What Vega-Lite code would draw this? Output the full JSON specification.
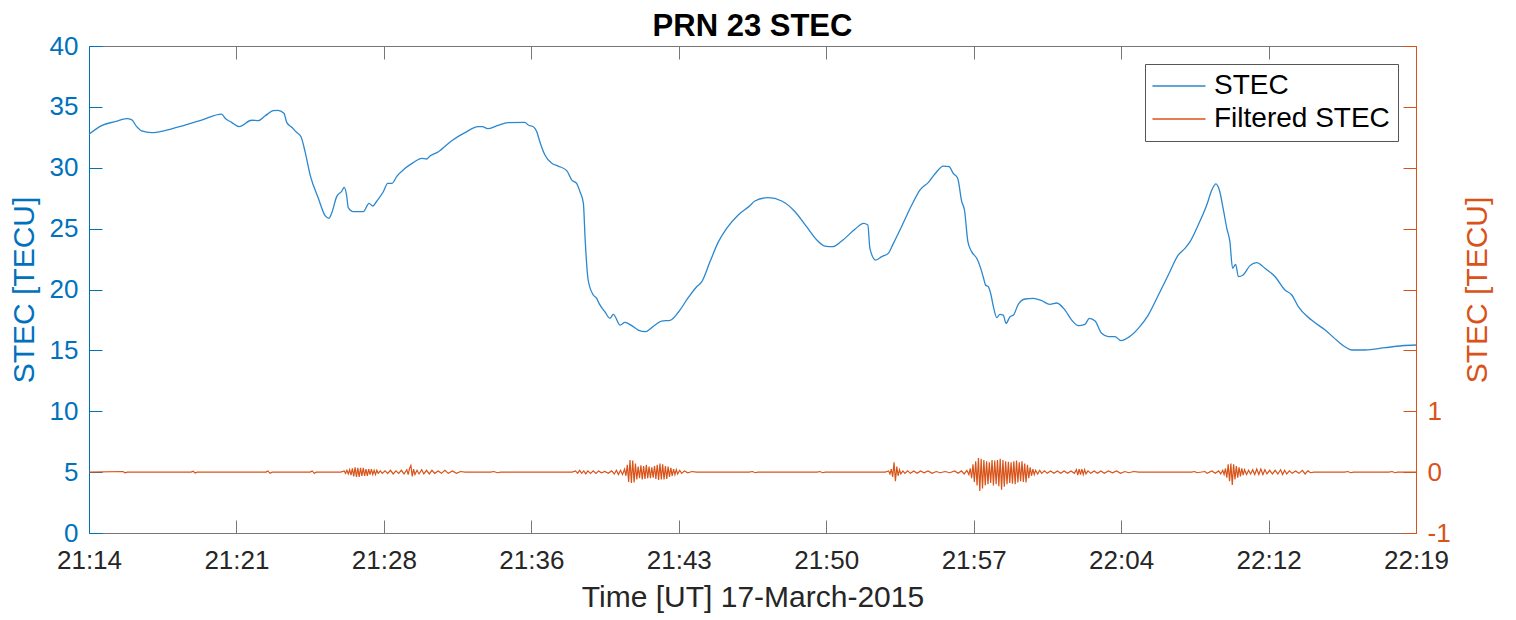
{
  "$schema": "https://vega.github.io/schema/vega-lite/v6.json",
  "width": 1327,
  "height": 487,
  "autosize": {"type": "none"},
  "padding": {"left": 89, "top": 46, "right": 100, "bottom": 87},
  "background": "white",
  "title": {"text": "PRN 23 STEC", "font": "Liberation Sans", "fontSize": 31, "fontWeight": "bold", "color": "#000000", "offset": -10},
  "datasets": {
    "stec": [
      {"t": 76460, "stec": 32.75}, {"t": 76497, "stec": 33.46}, {"t": 76536, "stec": 33.79}, {"t": 76571, "stec": 34.03},
      {"t": 76585, "stec": 33.95}, {"t": 76600, "stec": 33.38}, {"t": 76615, "stec": 33.02}, {"t": 76644, "stec": 32.88},
      {"t": 76683, "stec": 33.05}, {"t": 76742, "stec": 33.51}, {"t": 76791, "stec": 33.92}, {"t": 76850, "stec": 34.41},
      {"t": 76860, "stec": 34.06}, {"t": 76879, "stec": 33.73}, {"t": 76901, "stec": 33.38}, {"t": 76938, "stec": 33.9},
      {"t": 76958, "stec": 33.87}, {"t": 76977, "stec": 34.25}, {"t": 77002, "stec": 34.69}, {"t": 77015, "stec": 34.72},
      {"t": 77033, "stec": 34.47}, {"t": 77041, "stec": 33.73}, {"t": 77056, "stec": 33.32}, {"t": 77070, "stec": 32.91},
      {"t": 77083, "stec": 32.55}, {"t": 77095, "stec": 31.32}, {"t": 77110, "stec": 29.4}, {"t": 77134, "stec": 27.49},
      {"t": 77154, "stec": 26.06}, {"t": 77165, "stec": 25.85}, {"t": 77173, "stec": 26.26}, {"t": 77188, "stec": 27.63},
      {"t": 77203, "stec": 28.09}, {"t": 77210, "stec": 28.39}, {"t": 77217, "stec": 27.76}, {"t": 77222, "stec": 26.72},
      {"t": 77237, "stec": 26.39}, {"t": 77266, "stec": 26.39}, {"t": 77283, "stec": 27.08}, {"t": 77294, "stec": 26.86},
      {"t": 77306, "stec": 27.27}, {"t": 77325, "stec": 28.03}, {"t": 77338, "stec": 28.72}, {"t": 77351, "stec": 28.72},
      {"t": 77364, "stec": 29.27}, {"t": 77389, "stec": 29.95}, {"t": 77413, "stec": 30.42}, {"t": 77438, "stec": 30.77},
      {"t": 77452, "stec": 30.72}, {"t": 77462, "stec": 30.96}, {"t": 77487, "stec": 31.32}, {"t": 77526, "stec": 32.22},
      {"t": 77565, "stec": 32.88}, {"t": 77604, "stec": 33.37}, {"t": 77616, "stec": 33.37}, {"t": 77632, "stec": 33.21},
      {"t": 77658, "stec": 33.43}, {"t": 77692, "stec": 33.7}, {"t": 77741, "stec": 33.72}, {"t": 77751, "stec": 33.51},
      {"t": 77766, "stec": 33.37}, {"t": 77776, "stec": 32.96}, {"t": 77785, "stec": 32.14}, {"t": 77800, "stec": 31.05},
      {"t": 77820, "stec": 30.36}, {"t": 77839, "stec": 30.14}, {"t": 77864, "stec": 29.76}, {"t": 77879, "stec": 28.99},
      {"t": 77893, "stec": 28.72}, {"t": 77903, "stec": 28.03}, {"t": 77913, "stec": 27.08}, {"t": 77918, "stec": 24.2},
      {"t": 77927, "stec": 20.78}, {"t": 77942, "stec": 19.55}, {"t": 77952, "stec": 19.27}, {"t": 77959, "stec": 18.86},
      {"t": 77976, "stec": 18.18}, {"t": 77991, "stec": 17.63}, {"t": 78001, "stec": 17.96}, {"t": 78021, "stec": 17.08},
      {"t": 78035, "stec": 17.3}, {"t": 78055, "stec": 17.03}, {"t": 78074, "stec": 16.67}, {"t": 78096, "stec": 16.54},
      {"t": 78114, "stec": 16.87}, {"t": 78143, "stec": 17.41}, {"t": 78168, "stec": 17.47}, {"t": 78192, "stec": 18.13},
      {"t": 78221, "stec": 19.33}, {"t": 78246, "stec": 20.23}, {"t": 78261, "stec": 20.64}, {"t": 78285, "stec": 22.28},
      {"t": 78310, "stec": 23.93}, {"t": 78334, "stec": 25.02}, {"t": 78368, "stec": 26.12}, {"t": 78403, "stec": 26.9},
      {"t": 78417, "stec": 27.27}, {"t": 78456, "stec": 27.54}, {"t": 78496, "stec": 27.27}, {"t": 78535, "stec": 26.39},
      {"t": 78569, "stec": 25.16}, {"t": 78599, "stec": 24.07}, {"t": 78623, "stec": 23.57}, {"t": 78645, "stec": 23.52},
      {"t": 78672, "stec": 23.98}, {"t": 78711, "stec": 24.94}, {"t": 78736, "stec": 25.43}, {"t": 78749, "stec": 25.3},
      {"t": 78755, "stec": 23.38}, {"t": 78772, "stec": 22.42}, {"t": 78790, "stec": 22.7}, {"t": 78809, "stec": 22.97},
      {"t": 78824, "stec": 23.79}, {"t": 78848, "stec": 25.16}, {"t": 78878, "stec": 26.94}, {"t": 78902, "stec": 28.17},
      {"t": 78927, "stec": 28.8}, {"t": 78946, "stec": 29.49}, {"t": 78971, "stec": 30.14}, {"t": 78988, "stec": 30.09},
      {"t": 79000, "stec": 29.54}, {"t": 79013, "stec": 29.13}, {"t": 79025, "stec": 27.21}, {"t": 79033, "stec": 26.53},
      {"t": 79043, "stec": 23.93}, {"t": 79054, "stec": 23.11}, {"t": 79069, "stec": 22.56}, {"t": 79079, "stec": 21.88},
      {"t": 79088, "stec": 21.05}, {"t": 79095, "stec": 20.37}, {"t": 79103, "stec": 20.23}, {"t": 79111, "stec": 19.55},
      {"t": 79118, "stec": 18.59}, {"t": 79128, "stec": 17.69}, {"t": 79137, "stec": 17.96}, {"t": 79147, "stec": 17.9},
      {"t": 79155, "stec": 17.22}, {"t": 79167, "stec": 17.77}, {"t": 79177, "stec": 17.9}, {"t": 79191, "stec": 18.78},
      {"t": 79211, "stec": 19.22}, {"t": 79235, "stec": 19.27}, {"t": 79260, "stec": 19.08}, {"t": 79284, "stec": 18.78},
      {"t": 79304, "stec": 18.89}, {"t": 79328, "stec": 18.32}, {"t": 79348, "stec": 17.49}, {"t": 79368, "stec": 17.03},
      {"t": 79387, "stec": 17.14}, {"t": 79400, "stec": 17.63}, {"t": 79417, "stec": 17.41}, {"t": 79436, "stec": 16.4},
      {"t": 79456, "stec": 16.13}, {"t": 79475, "stec": 16.13}, {"t": 79493, "stec": 15.8}, {"t": 79515, "stec": 16.07},
      {"t": 79544, "stec": 16.81}, {"t": 79573, "stec": 17.9}, {"t": 79603, "stec": 19.55}, {"t": 79632, "stec": 21.19},
      {"t": 79661, "stec": 22.83}, {"t": 79681, "stec": 23.38}, {"t": 79696, "stec": 23.93}, {"t": 79720, "stec": 25.3},
      {"t": 79745, "stec": 26.94}, {"t": 79760, "stec": 28.17}, {"t": 79772, "stec": 28.67}, {"t": 79782, "stec": 28.17},
      {"t": 79794, "stec": 26.53}, {"t": 79804, "stec": 25.02}, {"t": 79813, "stec": 23.93}, {"t": 79821, "stec": 21.74},
      {"t": 79830, "stec": 22.07}, {"t": 79838, "stec": 21.05}, {"t": 79852, "stec": 21.19}, {"t": 79872, "stec": 21.96},
      {"t": 79892, "stec": 22.21}, {"t": 79916, "stec": 21.74}, {"t": 79946, "stec": 21.05}, {"t": 79975, "stec": 19.96},
      {"t": 79995, "stec": 19.55}, {"t": 80014, "stec": 18.59}, {"t": 80053, "stec": 17.49}, {"t": 80093, "stec": 16.67},
      {"t": 80132, "stec": 15.71}, {"t": 80151, "stec": 15.3}, {"t": 80171, "stec": 15.03}, {"t": 80210, "stec": 15.03},
      {"t": 80269, "stec": 15.22}, {"t": 80318, "stec": 15.38}, {"t": 80360, "stec": 15.44}
    ],
    "filtered": [
      {"t": 76460, "dtec": 0}, {"t": 76560, "dtec": 0.01}, {"t": 76566, "dtec": -0.01}, {"t": 76572, "dtec": 0},
      {"t": 76760, "dtec": 0}, {"t": 76766, "dtec": 0.015}, {"t": 76772, "dtec": -0.015}, {"t": 76778, "dtec": 0},
      {"t": 76980, "dtec": 0}, {"t": 76986, "dtec": 0.02}, {"t": 76992, "dtec": -0.02}, {"t": 76998, "dtec": 0},
      {"t": 77110, "dtec": 0}, {"t": 77116, "dtec": 0.02}, {"t": 77122, "dtec": -0.02}, {"t": 77128, "dtec": 0},
      {"t": 77200, "dtec": 0}, {"t": 77210, "dtec": 0.02}, {"t": 77214, "dtec": -0.02}, {"t": 77218, "dtec": 0.03},
      {"t": 77222, "dtec": -0.03}, {"t": 77226, "dtec": 0.04}, {"t": 77230, "dtec": -0.05}, {"t": 77234, "dtec": 0.06},
      {"t": 77238, "dtec": -0.07}, {"t": 77242, "dtec": 0.08}, {"t": 77246, "dtec": -0.08}, {"t": 77250, "dtec": 0.07},
      {"t": 77254, "dtec": -0.08}, {"t": 77258, "dtec": 0.07}, {"t": 77262, "dtec": -0.06}, {"t": 77266, "dtec": 0.07},
      {"t": 77270, "dtec": -0.06}, {"t": 77274, "dtec": 0.05}, {"t": 77278, "dtec": -0.06}, {"t": 77282, "dtec": 0.05},
      {"t": 77286, "dtec": -0.04}, {"t": 77290, "dtec": 0.05}, {"t": 77294, "dtec": -0.04}, {"t": 77298, "dtec": 0.03},
      {"t": 77302, "dtec": -0.04}, {"t": 77306, "dtec": 0.03}, {"t": 77310, "dtec": -0.02}, {"t": 77316, "dtec": 0.02},
      {"t": 77322, "dtec": -0.02}, {"t": 77330, "dtec": 0.02}, {"t": 77338, "dtec": -0.02}, {"t": 77346, "dtec": 0.03},
      {"t": 77354, "dtec": -0.03}, {"t": 77362, "dtec": 0.02}, {"t": 77370, "dtec": -0.02}, {"t": 77378, "dtec": 0.03},
      {"t": 77386, "dtec": -0.03}, {"t": 77394, "dtec": 0.04}, {"t": 77398, "dtec": -0.04}, {"t": 77402, "dtec": 0.06},
      {"t": 77406, "dtec": 0.11}, {"t": 77410, "dtec": -0.07}, {"t": 77414, "dtec": 0.05}, {"t": 77418, "dtec": -0.04},
      {"t": 77424, "dtec": 0.03}, {"t": 77430, "dtec": -0.03}, {"t": 77438, "dtec": 0.04}, {"t": 77444, "dtec": -0.03},
      {"t": 77452, "dtec": 0.03}, {"t": 77460, "dtec": -0.03}, {"t": 77468, "dtec": 0.03}, {"t": 77476, "dtec": -0.02},
      {"t": 77486, "dtec": 0.02}, {"t": 77496, "dtec": -0.02}, {"t": 77506, "dtec": 0.03}, {"t": 77516, "dtec": -0.02},
      {"t": 77528, "dtec": 0.02}, {"t": 77540, "dtec": -0.02}, {"t": 77552, "dtec": 0.01}, {"t": 77565, "dtec": 0},
      {"t": 77640, "dtec": 0}, {"t": 77650, "dtec": 0.01}, {"t": 77660, "dtec": -0.01}, {"t": 77670, "dtec": 0},
      {"t": 77880, "dtec": 0}, {"t": 77890, "dtec": 0.02}, {"t": 77896, "dtec": -0.02}, {"t": 77902, "dtec": 0.03},
      {"t": 77908, "dtec": -0.02}, {"t": 77914, "dtec": 0.02}, {"t": 77920, "dtec": -0.03}, {"t": 77926, "dtec": 0.02},
      {"t": 77934, "dtec": -0.02}, {"t": 77942, "dtec": 0.02}, {"t": 77950, "dtec": -0.02}, {"t": 77958, "dtec": 0.02},
      {"t": 77966, "dtec": -0.01}, {"t": 77976, "dtec": 0.01}, {"t": 77986, "dtec": -0.02}, {"t": 77996, "dtec": 0.02},
      {"t": 78004, "dtec": -0.03}, {"t": 78010, "dtec": 0.03}, {"t": 78016, "dtec": -0.04}, {"t": 78022, "dtec": 0.03},
      {"t": 78028, "dtec": -0.04}, {"t": 78034, "dtec": 0.05}, {"t": 78038, "dtec": -0.06}, {"t": 78042, "dtec": 0.12},
      {"t": 78046, "dtec": -0.16}, {"t": 78050, "dtec": 0.2}, {"t": 78054, "dtec": -0.18}, {"t": 78058, "dtec": 0.19},
      {"t": 78062, "dtec": -0.17}, {"t": 78066, "dtec": 0.14}, {"t": 78070, "dtec": -0.12}, {"t": 78074, "dtec": 0.09},
      {"t": 78078, "dtec": -0.1}, {"t": 78082, "dtec": 0.11}, {"t": 78086, "dtec": -0.12}, {"t": 78090, "dtec": 0.1},
      {"t": 78094, "dtec": -0.11}, {"t": 78098, "dtec": 0.12}, {"t": 78102, "dtec": -0.1}, {"t": 78106, "dtec": 0.09},
      {"t": 78110, "dtec": -0.1}, {"t": 78114, "dtec": 0.08}, {"t": 78118, "dtec": -0.09}, {"t": 78122, "dtec": 0.1},
      {"t": 78126, "dtec": -0.11}, {"t": 78130, "dtec": 0.12}, {"t": 78134, "dtec": -0.13}, {"t": 78138, "dtec": 0.14},
      {"t": 78142, "dtec": -0.12}, {"t": 78146, "dtec": 0.13}, {"t": 78150, "dtec": -0.12}, {"t": 78154, "dtec": 0.1},
      {"t": 78158, "dtec": -0.11}, {"t": 78162, "dtec": 0.09}, {"t": 78166, "dtec": -0.08}, {"t": 78170, "dtec": 0.07},
      {"t": 78174, "dtec": -0.06}, {"t": 78178, "dtec": 0.05}, {"t": 78182, "dtec": -0.04}, {"t": 78186, "dtec": 0.04},
      {"t": 78190, "dtec": -0.03}, {"t": 78196, "dtec": 0.03}, {"t": 78202, "dtec": -0.02}, {"t": 78210, "dtec": 0.02},
      {"t": 78220, "dtec": -0.01}, {"t": 78232, "dtec": 0.01}, {"t": 78245, "dtec": 0}, {"t": 78400, "dtec": 0},
      {"t": 78410, "dtec": 0.01}, {"t": 78418, "dtec": -0.01}, {"t": 78426, "dtec": 0}, {"t": 78600, "dtec": 0},
      {"t": 78608, "dtec": 0.01}, {"t": 78616, "dtec": -0.01}, {"t": 78624, "dtec": 0}, {"t": 78800, "dtec": 0},
      {"t": 78810, "dtec": 0.02}, {"t": 78814, "dtec": -0.03}, {"t": 78818, "dtec": 0.05}, {"t": 78822, "dtec": -0.08},
      {"t": 78826, "dtec": 0.16}, {"t": 78830, "dtec": -0.15}, {"t": 78834, "dtec": 0.09}, {"t": 78838, "dtec": -0.06},
      {"t": 78842, "dtec": 0.04}, {"t": 78846, "dtec": -0.03}, {"t": 78852, "dtec": 0.02}, {"t": 78858, "dtec": -0.02},
      {"t": 78866, "dtec": 0.02}, {"t": 78874, "dtec": -0.02}, {"t": 78884, "dtec": 0.02}, {"t": 78894, "dtec": -0.02},
      {"t": 78904, "dtec": 0.02}, {"t": 78914, "dtec": -0.01}, {"t": 78926, "dtec": 0.02}, {"t": 78938, "dtec": -0.02},
      {"t": 78950, "dtec": 0.01}, {"t": 78962, "dtec": -0.01}, {"t": 78976, "dtec": 0.01}, {"t": 78990, "dtec": -0.01},
      {"t": 79004, "dtec": 0.02}, {"t": 79014, "dtec": -0.02}, {"t": 79024, "dtec": 0.02}, {"t": 79032, "dtec": -0.03},
      {"t": 79040, "dtec": 0.03}, {"t": 79046, "dtec": -0.04}, {"t": 79050, "dtec": 0.06}, {"t": 79054, "dtec": -0.1},
      {"t": 79058, "dtec": 0.13}, {"t": 79062, "dtec": -0.16}, {"t": 79066, "dtec": 0.18}, {"t": 79070, "dtec": -0.22},
      {"t": 79074, "dtec": 0.23}, {"t": 79078, "dtec": -0.31}, {"t": 79082, "dtec": 0.22}, {"t": 79086, "dtec": -0.27},
      {"t": 79090, "dtec": 0.2}, {"t": 79094, "dtec": -0.22}, {"t": 79098, "dtec": 0.18}, {"t": 79102, "dtec": -0.2},
      {"t": 79106, "dtec": 0.16}, {"t": 79110, "dtec": -0.18}, {"t": 79114, "dtec": 0.2}, {"t": 79118, "dtec": -0.22},
      {"t": 79122, "dtec": 0.19}, {"t": 79126, "dtec": -0.2}, {"t": 79130, "dtec": 0.2}, {"t": 79134, "dtec": -0.23},
      {"t": 79138, "dtec": 0.22}, {"t": 79142, "dtec": -0.29}, {"t": 79146, "dtec": 0.2}, {"t": 79150, "dtec": -0.24},
      {"t": 79154, "dtec": 0.18}, {"t": 79158, "dtec": -0.2}, {"t": 79162, "dtec": 0.17}, {"t": 79166, "dtec": -0.18},
      {"t": 79170, "dtec": 0.16}, {"t": 79174, "dtec": -0.19}, {"t": 79178, "dtec": 0.18}, {"t": 79182, "dtec": -0.2},
      {"t": 79186, "dtec": 0.19}, {"t": 79190, "dtec": -0.17}, {"t": 79194, "dtec": 0.16}, {"t": 79198, "dtec": -0.15},
      {"t": 79202, "dtec": 0.18}, {"t": 79206, "dtec": -0.16}, {"t": 79210, "dtec": 0.14}, {"t": 79214, "dtec": -0.17},
      {"t": 79218, "dtec": 0.12}, {"t": 79222, "dtec": -0.1}, {"t": 79226, "dtec": 0.08}, {"t": 79230, "dtec": -0.06},
      {"t": 79234, "dtec": 0.05}, {"t": 79238, "dtec": -0.04}, {"t": 79242, "dtec": 0.03}, {"t": 79248, "dtec": -0.03},
      {"t": 79254, "dtec": 0.03}, {"t": 79260, "dtec": -0.02}, {"t": 79268, "dtec": 0.02}, {"t": 79276, "dtec": -0.02},
      {"t": 79286, "dtec": 0.02}, {"t": 79296, "dtec": -0.02}, {"t": 79306, "dtec": 0.02}, {"t": 79316, "dtec": -0.02},
      {"t": 79326, "dtec": 0.02}, {"t": 79336, "dtec": -0.02}, {"t": 79346, "dtec": 0.02}, {"t": 79356, "dtec": -0.02},
      {"t": 79362, "dtec": 0.04}, {"t": 79366, "dtec": -0.05}, {"t": 79370, "dtec": 0.05}, {"t": 79374, "dtec": -0.04},
      {"t": 79378, "dtec": 0.05}, {"t": 79382, "dtec": -0.04}, {"t": 79386, "dtec": 0.04}, {"t": 79390, "dtec": -0.03},
      {"t": 79396, "dtec": 0.02}, {"t": 79404, "dtec": -0.02}, {"t": 79414, "dtec": 0.02}, {"t": 79424, "dtec": -0.02},
      {"t": 79434, "dtec": 0.02}, {"t": 79444, "dtec": -0.02}, {"t": 79456, "dtec": 0.02}, {"t": 79468, "dtec": -0.01},
      {"t": 79480, "dtec": 0.02}, {"t": 79492, "dtec": -0.02}, {"t": 79504, "dtec": 0.01}, {"t": 79516, "dtec": -0.01},
      {"t": 79530, "dtec": 0.01}, {"t": 79545, "dtec": 0}, {"t": 79700, "dtec": 0}, {"t": 79710, "dtec": 0.01},
      {"t": 79716, "dtec": -0.01}, {"t": 79740, "dtec": 0.01}, {"t": 79746, "dtec": -0.02}, {"t": 79760, "dtec": 0.02},
      {"t": 79770, "dtec": -0.02}, {"t": 79780, "dtec": 0.02}, {"t": 79786, "dtec": -0.03}, {"t": 79792, "dtec": 0.03},
      {"t": 79796, "dtec": -0.04}, {"t": 79800, "dtec": 0.06}, {"t": 79804, "dtec": -0.09}, {"t": 79808, "dtec": 0.13},
      {"t": 79812, "dtec": -0.15}, {"t": 79816, "dtec": 0.14}, {"t": 79820, "dtec": -0.21}, {"t": 79824, "dtec": 0.13},
      {"t": 79828, "dtec": -0.12}, {"t": 79832, "dtec": 0.1}, {"t": 79836, "dtec": -0.09}, {"t": 79840, "dtec": 0.08},
      {"t": 79844, "dtec": -0.07}, {"t": 79848, "dtec": 0.06}, {"t": 79852, "dtec": -0.05}, {"t": 79856, "dtec": 0.04},
      {"t": 79862, "dtec": -0.04}, {"t": 79868, "dtec": 0.03}, {"t": 79874, "dtec": -0.03}, {"t": 79880, "dtec": 0.04},
      {"t": 79886, "dtec": -0.04}, {"t": 79892, "dtec": 0.05}, {"t": 79898, "dtec": -0.04}, {"t": 79904, "dtec": 0.05},
      {"t": 79910, "dtec": -0.04}, {"t": 79916, "dtec": 0.04}, {"t": 79922, "dtec": -0.03}, {"t": 79930, "dtec": 0.03},
      {"t": 79938, "dtec": -0.03}, {"t": 79946, "dtec": 0.03}, {"t": 79954, "dtec": -0.03}, {"t": 79962, "dtec": 0.04},
      {"t": 79968, "dtec": -0.04}, {"t": 79974, "dtec": 0.03}, {"t": 79980, "dtec": -0.03}, {"t": 79988, "dtec": 0.02},
      {"t": 79996, "dtec": -0.02}, {"t": 80006, "dtec": 0.02}, {"t": 80016, "dtec": -0.02}, {"t": 80026, "dtec": 0.03},
      {"t": 80034, "dtec": -0.03}, {"t": 80042, "dtec": 0.02}, {"t": 80050, "dtec": -0.01}, {"t": 80060, "dtec": 0},
      {"t": 80150, "dtec": 0}, {"t": 80160, "dtec": 0.01}, {"t": 80168, "dtec": -0.01}, {"t": 80176, "dtec": 0},
      {"t": 80280, "dtec": 0}, {"t": 80290, "dtec": 0.01}, {"t": 80298, "dtec": -0.01}, {"t": 80306, "dtec": 0},
      {"t": 80360, "dtec": 0}
    ]
  },
  "config": {
    "font": "Liberation Sans",
    "view": {"stroke": "#777777", "strokeWidth": 1},
    "axis": {
      "grid": false,
      "tickSize": -13,
      "tickWidth": 1,
      "domainWidth": 1,
      "labelFont": "Liberation Sans",
      "titleFont": "Liberation Sans",
      "labelFontSize": 26,
      "titleFontSize": 30,
      "titleFontWeight": "normal",
      "labelOverlap": false,
      "labelFlush": false
    },
    "legend": {
      "labelFont": "Liberation Sans",
      "labelFontSize": 28,
      "labelColor": "#000000",
      "labelLimit": 400,
      "strokeColor": "#555555",
      "fillColor": "white",
      "padding": 8,
      "symbolType": "M-4,0H4",
      "symbolSize": 176,
      "symbolStrokeWidth": 1.3,
      "symbolOffset": 12,
      "labelOffset": 21,
      "rowPadding": 5
    }
  },
  "layer": [
    {
      "data": {"name": "stec"},
      "mark": {"type": "line", "strokeWidth": 1.3, "interpolate": "monotone"},
      "encoding": {
        "x": {
          "field": "t",
          "type": "quantitative",
          "scale": {"domain": [76460, 80360], "nice": false, "zero": false},
          "axis": {
            "orient": "bottom",
            "title": "Time [UT] 17-March-2015",
            "values": [76460, 76893.333, 77326.667, 77760, 78193.333, 78626.667, 79060, 79493.333, 79926.667, 80360],
            "labelExpr": "utcFormat(datum.value * 1000, '%H:%M')",
            "labelPadding": 27,
            "labelColor": "#262626",
            "titleColor": "#262626",
            "titlePadding": 9,
            "domainColor": "#777777",
            "tickColor": "#777777"
          }
        },
        "y": {
          "field": "stec",
          "type": "quantitative",
          "scale": {"domain": [0, 40], "nice": false},
          "axis": {
            "orient": "left",
            "title": "STEC [TECU]",
            "values": [0, 5, 10, 15, 20, 25, 30, 35, 40],
            "labelPadding": 24,
            "labelColor": "#0072BD",
            "titleColor": "#0072BD",
            "titlePadding": 10,
            "domainColor": "#0072BD",
            "tickColor": "#0072BD"
          }
        },
        "color": {
          "datum": "STEC",
          "type": "nominal",
          "scale": {"domain": ["STEC", "Filtered STEC"], "range": ["#2b88cf", "#D95319"]},
          "legend": {"title": null, "orient": "top-right", "offset": 18}
        }
      }
    },
    {
      "data": {"name": "filtered"},
      "mark": {"type": "line", "strokeWidth": 1.2},
      "encoding": {
        "x": {
          "field": "t",
          "type": "quantitative",
          "axis": {
            "orient": "top",
            "title": null,
            "labels": false,
            "values": [76460, 76893.333, 77326.667, 77760, 78193.333, 78626.667, 79060, 79493.333, 79926.667, 80360],
            "domainColor": "#777777",
            "tickColor": "#777777"
          }
        },
        "y": {
          "field": "dtec",
          "type": "quantitative",
          "scale": {"domain": [-1, 7], "nice": false, "zero": false},
          "axis": {
            "orient": "right",
            "title": "STEC [TECU]",
            "titleAngle": 270,
            "titleBaseline": "top",
            "values": [-1, 0, 1, 2, 3, 4, 5, 6, 7],
            "labelExpr": "datum.value <= 1 ? replace(datum.label, '\u2212', '-') : ''",
            "labelPadding": 24,
            "labelColor": "#D95319",
            "titleColor": "#D95319",
            "titlePadding": 12,
            "domainColor": "#D95319",
            "tickColor": "#D95319"
          }
        },
        "color": {"datum": "Filtered STEC", "type": "nominal"}
      }
    }
  ],
  "resolve": {"scale": {"y": "independent"}, "axis": {"x": "independent"}}
}
